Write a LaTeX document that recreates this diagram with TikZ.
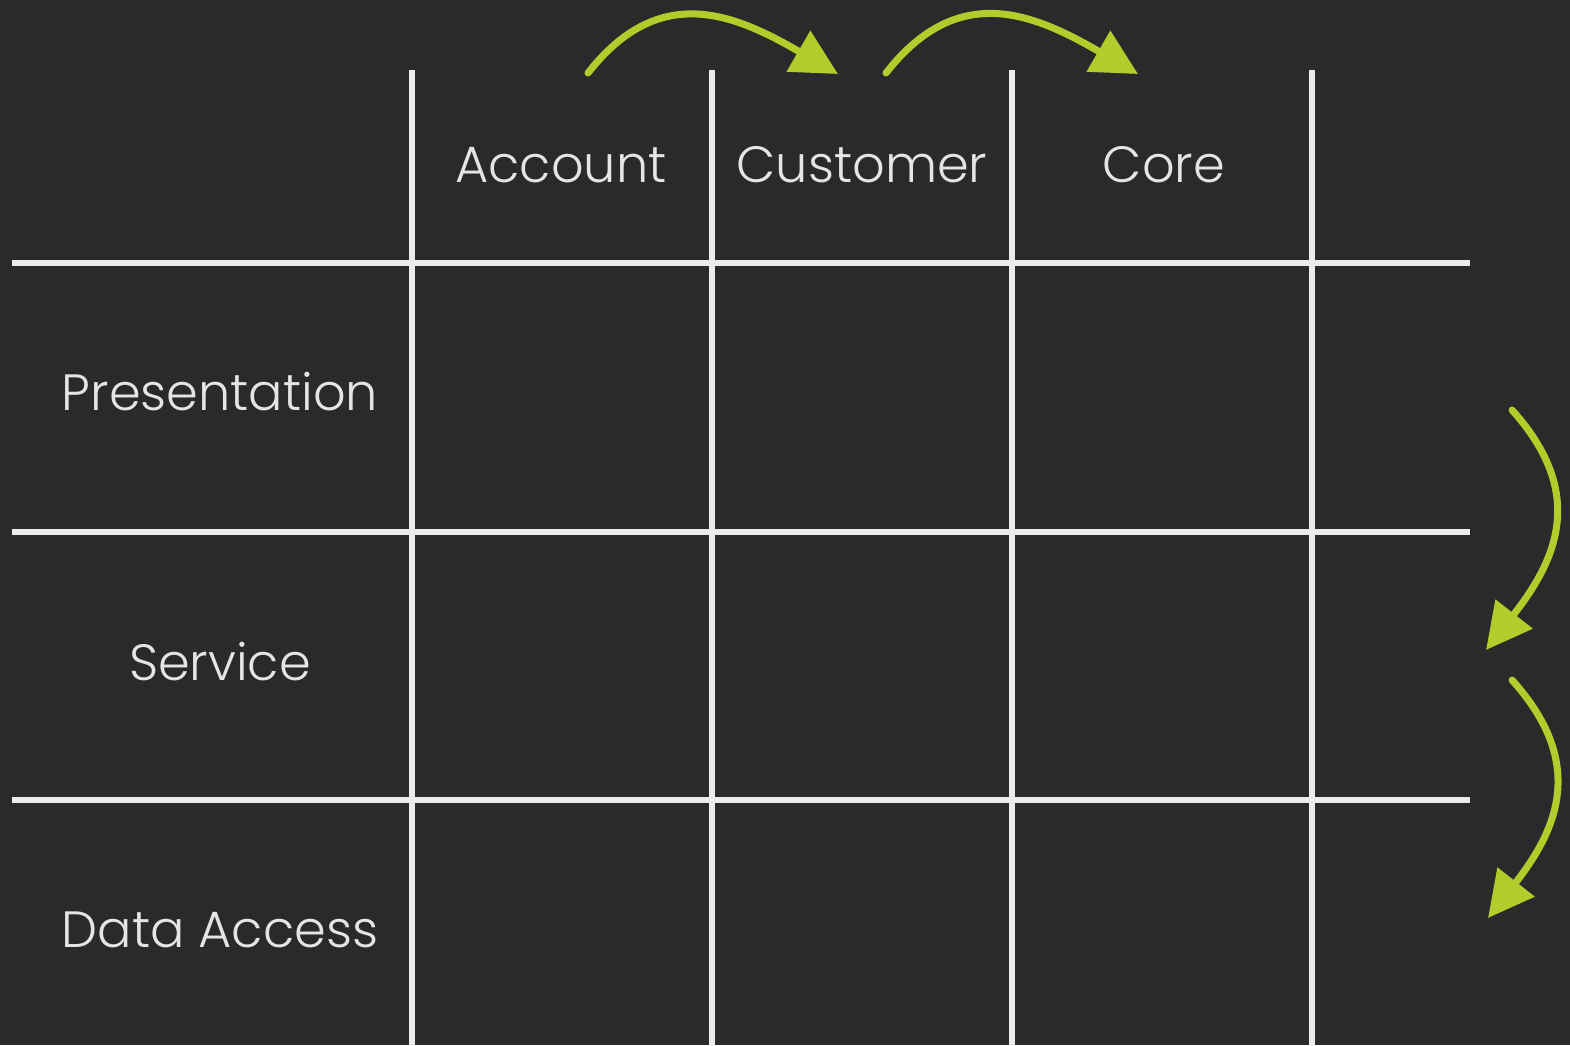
\documentclass[tikz,border=0pt]{standalone}
\usepackage{fontspec}
\setmainfont{Poppins Light}
\usetikzlibrary{arrows.meta}
\definecolor{board}{HTML}{2A2A2A}
\definecolor{chalkgreen}{HTML}{B4CB2C}

\begin{document}
\begin{tikzpicture}[x=0.01cm, y=-0.01cm,
		grid/.style={draw=white!92!black, line width=1.5pt},
		label/.style={text=white!90!black, font=\fontsize{14.5}{16}\selectfont, inner sep=0pt},
		swoop/.style={draw=chalkgreen, line width=2pt, line cap=round, -{Triangle[length=13pt, width=13pt]}}]
		% Board
		\fill [board] (0,0) rectangle (1570,1045);
		\useasboundingbox (0,0) rectangle (1570,1045);

		% Grid
		\foreach \gx in {412,712,1012,1312}
			\draw [grid] (\gx,70) -- (\gx,1045);
		\foreach \gy in {263,532,800}
			\draw [grid] (12,\gy) -- (1470,\gy);

		% Columns
		\node [label] (account) at (561,165) {Account};
		\node [label] (customer) at (862,165) {Customer};
		\node [label] (core) at (1164,165) {Core};

		% Rows
		\node [label] (presentation) at (220,392) {Presentation};
		\node [label] (service) at (220,662) {Service};
		\node [label] (dataaccess) at (220,930) {Data Access};

		% Arrow ends
		\coordinate (a1) at (588,73);
		\coordinate (a2) at (838,74);
		\coordinate (b1) at (886,73);
		\coordinate (b2) at (1138,74);
		\coordinate (c1) at (1512,410);
		\coordinate (c2) at (1486,650);
		\coordinate (d1) at (1512,680);
		\coordinate (d2) at (1488,918);

		% Arrows
		\draw [swoop] (a1) to[out=52, in=150, looseness=1.2] (a2);
		\draw [swoop] (b1) to[out=52, in=150, looseness=1.2] (b2);
		\draw [swoop] (c1) to[out=-48, in=52, looseness=1.2] (c2);
		\draw [swoop] (d1) to[out=-48, in=52, looseness=1.2] (d2);
	\end{tikzpicture}
\end{document}
